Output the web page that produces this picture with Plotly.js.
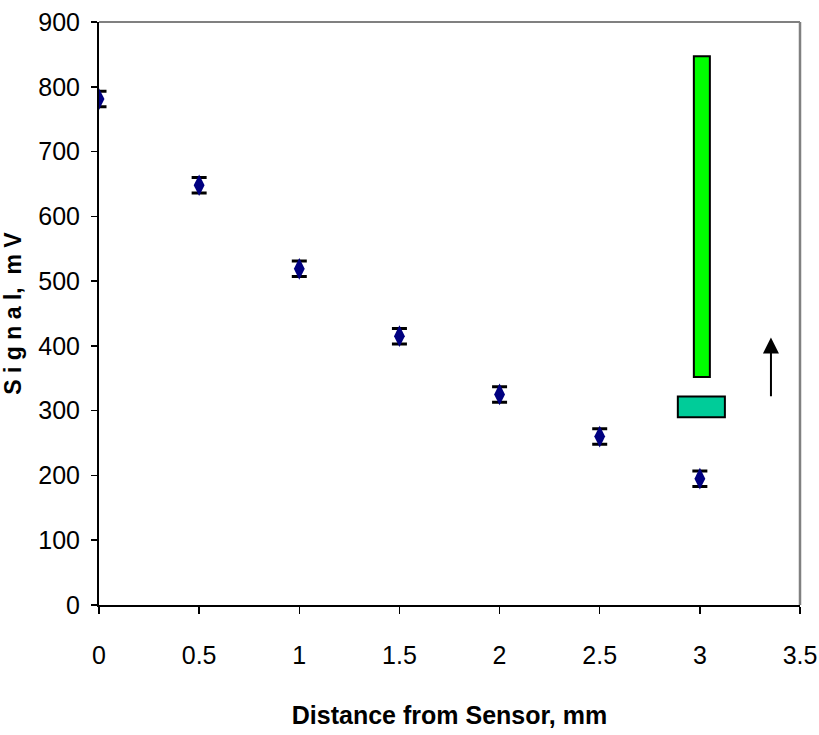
<!DOCTYPE html>
<html>
<head>
<meta charset="utf-8">
<script src="https://cdn.plot.ly/plotly-3.0.1.min.js"></script>
<style>
  html, body { margin: 0; padding: 0; background: #ffffff; }
  #chart { width: 819px; height: 735px; }
</style>
</head>
<body>
<div id="chart"></div>
<script>
// Signal versus distance from the sensor
const distance = [0, 0.5, 1, 1.5, 2, 2.5, 3];
const signal = [781, 648, 519, 415, 325, 260, 195];
const signalError = [12, 12, 12, 12, 12, 12, 12];

const xTicks = [0, 0.5, 1, 1.5, 2, 2.5, 3, 3.5];
const xTickLabels = ['0', '0.5', '1', '1.5', '2', '2.5', '3', '3.5'];
const yTicks = [0, 100, 200, 300, 400, 500, 600, 700, 800, 900];
const yTickLabels = ['0', '100', '200', '300', '400', '500', '600', '700', '800', '900'];

// Range bars drawn at the last distance (x0, x1, y0, y1)
const upperBar = [2.97, 3.05, 352, 847];
const lowerBar = [2.89, 3.125, 290, 322];
// Upward arrow (x, tail y, head y)
const arrow = [3.355, 320, 413];

const tickFont = { family: '"Liberation Sans Narrow", "Arial Narrow", "Liberation Sans", Arial, sans-serif', size: 25, color: '#000000' };

const trace = {
  x: distance,
  y: signal,
  type: 'scatter',
  mode: 'markers',
  marker: { symbol: 'diamond-tall', size: 15.5, color: '#000080' },
  error_y: { type: 'data', array: signalError, visible: true, color: '#000000', thickness: 3, width: 7.5 },
  hoverinfo: 'x+y',
  showlegend: false
};

const layout = {
  width: 819,
  height: 735,
  margin: { l: 99, r: 19, t: 22, b: 130 },
  paper_bgcolor: '#ffffff',
  plot_bgcolor: '#ffffff',
  xaxis: {
    range: [0, 3.5],
    tickmode: 'array',
    tickvals: xTicks,
    ticktext: xTickLabels,
    ticks: 'outside',
    ticklen: 7,
    tickwidth: 1.5,
    tickcolor: '#000000',
    ticklabelstandoff: 20,
    showgrid: false,
    zeroline: false,
    showline: true,
    linecolor: '#000000',
    linewidth: 2,
    tickfont: tickFont,
    title: {
      text: 'Distance from Sensor, mm',
      font: { family: '"Liberation Sans Narrow", "Arial Narrow", "Liberation Sans", Arial, sans-serif', size: 25, color: '#000000', weight: 'bold' },
      standoff: 38
    }
  },
  yaxis: {
    range: [0, 900],
    tickmode: 'array',
    tickvals: yTicks,
    ticktext: yTickLabels,
    ticks: 'outside',
    ticklen: 6,
    tickwidth: 1.5,
    tickcolor: '#000000',
    ticklabelstandoff: 6,
    showgrid: false,
    zeroline: false,
    showline: true,
    linecolor: '#000000',
    linewidth: 2,
    tickfont: tickFont,
    title: {
      text: 'S i g n a l,  m V',
      font: { family: '"Liberation Sans", Arial, sans-serif', size: 23, color: '#000000', weight: 'bold' },
      standoff: 13
    }
  },
  shapes: [
    // plot frame, top and right edges
    { type: 'line', xref: 'paper', yref: 'paper', x0: 0, x1: 1, y0: 1, y1: 1, line: { color: '#808080', width: 2 } },
    { type: 'line', xref: 'paper', yref: 'paper', x0: 1, x1: 1, y0: 0, y1: 1, line: { color: '#808080', width: 2.5 } },
    { type: 'rect', xref: 'x', yref: 'y', x0: upperBar[0], x1: upperBar[1], y0: upperBar[2], y1: upperBar[3],
      fillcolor: '#00ff00', line: { color: '#000000', width: 2 } },
    { type: 'rect', xref: 'x', yref: 'y', x0: lowerBar[0], x1: lowerBar[1], y0: lowerBar[2], y1: lowerBar[3],
      fillcolor: '#00cc99', line: { color: '#000000', width: 2 } }
  ],
  annotations: [
    { x: arrow[0], y: arrow[2], ax: arrow[0], ay: arrow[1], xref: 'x', yref: 'y', axref: 'x', ayref: 'y',
      text: '', showarrow: true, arrowhead: 2, arrowsize: 1.6, arrowwidth: 2, arrowcolor: '#000000' }
  ]
};

Plotly.newPlot('chart', [trace], layout, { displayModeBar: false, staticPlot: true });
</script>
</body>
</html>
